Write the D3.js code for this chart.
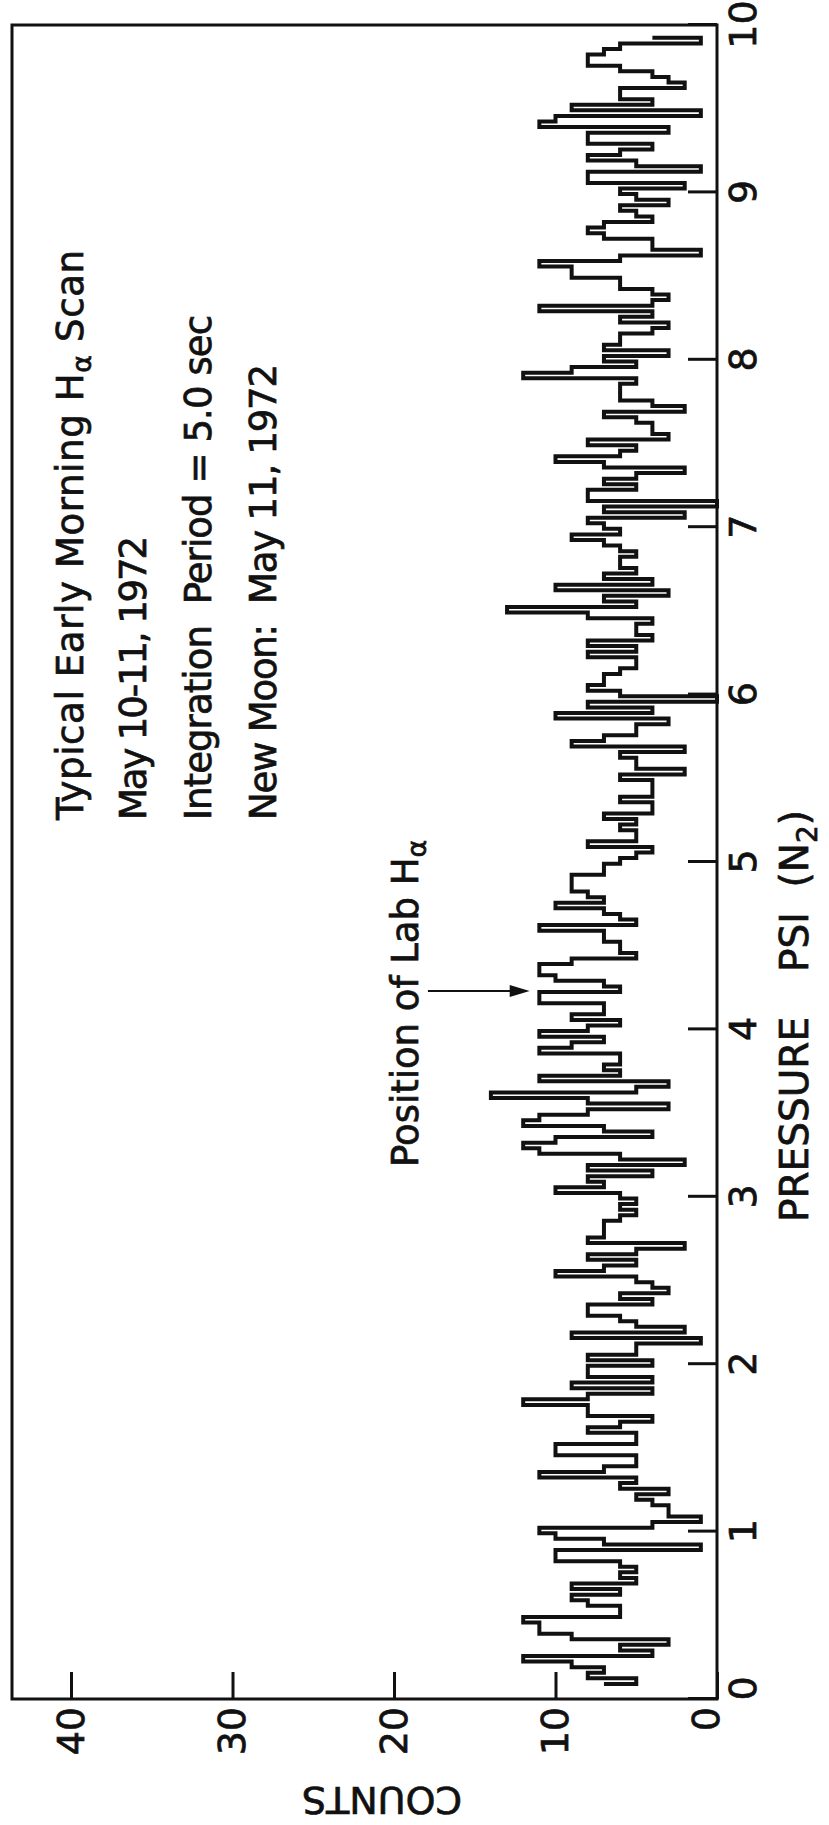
<!DOCTYPE html>
<html>
<head>
<meta charset="utf-8">
<script src="https://cdn.jsdelivr.net/npm/d3@7"></script>
<style>
  body { margin: 0; background: #fff; }
</style>
</head>
<body>
<div id="chart"></div>
<script>
// axis ticks
var pressureTicks = [0, 1, 2, 3, 4, 5, 6, 7, 8, 9, 10];
var countTicks = [0, 10, 20, 30, 40];

// multichannel scan: one count per channel, 1/30 psi wide, from 0.09 psi up
var startPressure = 0.09;
var channelWidth = 1 / 30;
var startCount = 7;
var endCount = 4;
var scan1 = [5,8,7,9,12,4,6,3,9,11,11,12,6,6,8,9,6,9,5,6,5,6,10,10,1,7,10,11,4,1,3,3,4,5,3,6,5,11,7,5,5,10,10,5,5,8,6,4,8,8,12,8,4,9,4,8,8];
var scan2 = [4,8,5,5,1,9,2,5,6,8,8,4,6,3,4,5,10,7,5,8,5,2,8,7,7,7,6,5,6,5,6,10,7,8,4,8,2,6,11,12,10,4,7,12,11,8,3,8,14,5,3,11,6,7];
var scan3 = [6,6,11,9,7,11,8,6,9,7,7,11,11,6,7,10,11,11,9,5,6,6,7,7,11,5,6,7,10,7,8,9,9,9,7,7,6,5,4,8,5,5,6,5,7,4,4,6];
var scan4 = [4,4,4,6,2,5,5,6,2,9,7,5,5,3,10,4,8,0,6,8,7,7,6,5,5,8,5,8,4,5,5,4,8,13,5,7,3,10,4,7,5,6,6,5,6,7];
var scan5 = [9,6,7,8,2,7,0,8,8,5,7,5,2,7,10,6,5,8,3,4,4,5,7,2,4,6,6,6,5,12,9,5,7,3,7,6,6,4,3,6,4,11,4,3,4,6,6];
var scan6 = [9,9,11,6,1,4,4,7,8,7,4,5,6,3,5,6,2,8,8,1,5,8,6,4,8,8,3,11,10,1,9,4,6,6,2,3,4,6,8,8,7,6,1];

// lab H-alpha marker
var labPressure = 4.23;
var arrowCounts = [17.9, 11.6];

var notes = [
    ["Typical Early Morning H", "\u03b1", " Scan"],
    ["May 10-11, 1972"],
    ["Integration  Period = 5.0 sec"],
    ["New Moon:  May 11, 1972"]
];
var noteBaselines = [83, 146, 211, 276];
var noteLengths = [570, 284, 505, 456];

// the chart is drawn landscape and turned a quarter turn
var W = 1825, H = 829;
var svg = d3.select("#chart").append("svg")
    .attr("width", H)
    .attr("height", W);
var g = svg.append("g").attr("transform", "translate(0," + W + ") rotate(-90)");

var x = d3.scaleLinear().domain([0, 10]).range([126, 1800]);
var y = d3.scaleLinear().domain([0, 40]).range([717, 71]);
var ink = "#111";

function heavy(sel) {
    sel.attr("fill", ink).attr("stroke", ink).attr("stroke-width", 0.7);
}

// frame
g.append("rect")
    .attr("x", x(0)).attr("y", 12)
    .attr("width", x(10) - x(0)).attr("height", y(0) - 12)
    .attr("fill", "none").attr("stroke", ink).attr("stroke-width", 3);

// pressure axis
var xAxis = g.append("g")
    .attr("transform", "translate(0," + y(0) + ")")
    .call(d3.axisBottom(x).tickValues(pressureTicks).tickSizeInner(-29).tickSizeOuter(0)
        .tickPadding(12).tickFormat(d3.format("d")));
xAxis.select(".domain").remove();
xAxis.selectAll("line").attr("stroke", ink).attr("stroke-width", 3);
xAxis.selectAll("text")
    .attr("font-family", "DejaVu Sans")
    .attr("font-size", 38)
    .attr("dx", function(d) { return d === 0 ? 10 : 0; })
    .call(heavy);

// counts axis
var yAxis = g.append("g")
    .attr("transform", "translate(" + x(0) + ",0)")
    .call(d3.axisLeft(y).tickValues(countTicks).tickSizeInner(-27).tickSizeOuter(0)
        .tickPadding(8).tickFormat(d3.format("d")));
yAxis.select(".domain").remove();
yAxis.selectAll("line").attr("stroke", ink).attr("stroke-width", 3);
yAxis.selectAll("text")
    .attr("font-family", "DejaVu Sans")
    .attr("font-size", 38)
    .attr("dy", function(d) { return d === 0 ? "0.05em" : "0.32em"; })
    .call(heavy);

// axis titles
g.append("text")
    .attr("transform", "translate(38,382) rotate(-90)")
    .attr("text-anchor", "middle")
    .attr("font-family", "DejaVu Sans")
    .attr("font-size", 38)
    .text("COUNTS")
    .call(heavy);

g.append("text")
    .attr("x", 603).attr("y", 808)
    .attr("font-family", "DejaVu Sans")
    .attr("font-size", 39)
    .text("PRESSURE")
    .call(heavy);

var psi = g.append("text")
    .attr("x", 853).attr("y", 808)
    .attr("font-family", "DejaVu Sans")
    .attr("font-size", 39)
    .style("white-space", "pre")
    .call(heavy);
psi.append("tspan").text("PSI  (N");
psi.append("tspan").attr("font-size", 28).attr("dy", 9).text("2");
psi.append("tspan").attr("dy", -9).text(")");

// scan trace
var counts = [].concat(scan1, scan2, scan3, scan4, scan5, scan6);
var pts = [{p: startPressure, c: startCount}];
counts.forEach(function(c, i) {
    pts.push({p: startPressure + i * channelWidth, c: c});
});
var pEnd = startPressure + counts.length * channelWidth;
pts.push({p: pEnd, c: counts[counts.length - 1]});
pts.push({p: pEnd, c: endCount});

var line = d3.line()
    .x(function(d) { return x(d.p); })
    .y(function(d) { return y(d.c); })
    .curve(d3.curveStepAfter);

g.append("path")
    .datum(pts)
    .attr("d", line)
    .attr("fill", "none")
    .attr("stroke", ink)
    .attr("stroke-width", 4)
    .attr("stroke-linejoin", "miter");

// notes
notes.forEach(function(parts, i) {
    var t = g.append("text")
        .attr("x", 1005).attr("y", noteBaselines[i])
        .attr("font-family", "DejaVu Sans")
        .attr("font-size", 37)
        .attr("textLength", noteLengths[i])
        .attr("lengthAdjust", "spacing")
        .style("white-space", "pre")
        .call(heavy);
    parts.forEach(function(s, j) {
        if (s === "\u03b1") {
            t.append("tspan").attr("font-size", 27).attr("dy", 8).text(s);
        } else {
            var ts = t.append("tspan").text(s);
            if (j > 0) ts.attr("dy", -8);
        }
    });
});

// lab H-alpha label and arrow
var lab = g.append("text")
    .attr("x", 658).attr("y", 418)
    .attr("font-family", "DejaVu Sans")
    .attr("font-size", 37)
    .call(heavy);
lab.append("tspan").text("Position of Lab H");
lab.append("tspan").attr("font-size", 27).attr("dy", 8).text("\u03b1");

g.append("line")
    .attr("x1", x(labPressure)).attr("x2", x(labPressure))
    .attr("y1", y(arrowCounts[0])).attr("y2", y(arrowCounts[1]) - 18)
    .attr("stroke", ink).attr("stroke-width", 2);
g.append("path")
    .attr("d", d3.line()([
        [x(labPressure) - 6, y(arrowCounts[1]) - 20],
        [x(labPressure) + 6, y(arrowCounts[1]) - 20],
        [x(labPressure), y(arrowCounts[1])]
    ]) + "Z")
    .attr("fill", ink);
</script>
</body>
</html>
